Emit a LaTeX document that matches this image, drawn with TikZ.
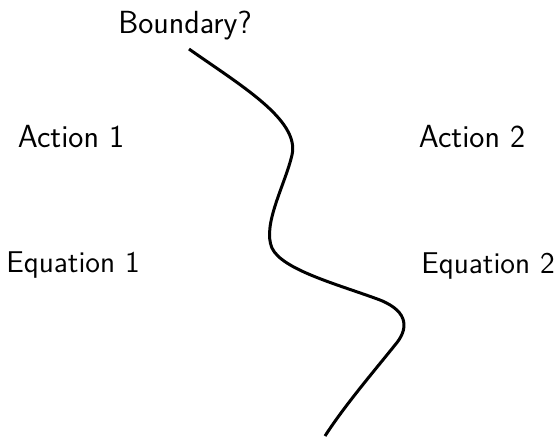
\documentclass[tikz,border=0pt]{standalone}
\usepackage{fontspec}
\usepackage{tikz}

\begin{document}
\begin{tikzpicture}[x=0.5pt, y=-0.5pt,
	label/.style={font=\fontsize{16}{19}\selectfont\sffamily, inner sep=0pt, anchor=base},
	eqlabel/.style={label, font=\fontsize{15}{18}\selectfont\sffamily}]
	\useasboundingbox (0,0) rectangle (559,436);
	% the uncertain split between the two sides
	\coordinate (top) at (189,49);
	\coordinate (bottom) at (325,436);
	\draw[line width=1.5pt] (top) .. controls (240,85) and (300,120) .. (292,155)
		.. controls (285,185) and (262,225) .. (272,248)
		.. controls (282,270) and (340,285) .. (380,300)
		.. controls (410,312) and (408,330) .. (395,345)
		.. controls (375,370) and (345,405) .. (bottom);
	\node[label] (bnd) at (185,33) {Boundary?};
	\node[label] (act1) at (71,147) {Action 1};
	\node[eqlabel] (eq1) at (73,272) {Equation 1};
	\node[label] (act2) at (472,147) {Action 2};
	\node[eqlabel] (eq2) at (488,273) {Equation 2};
\end{tikzpicture}
\end{document}
